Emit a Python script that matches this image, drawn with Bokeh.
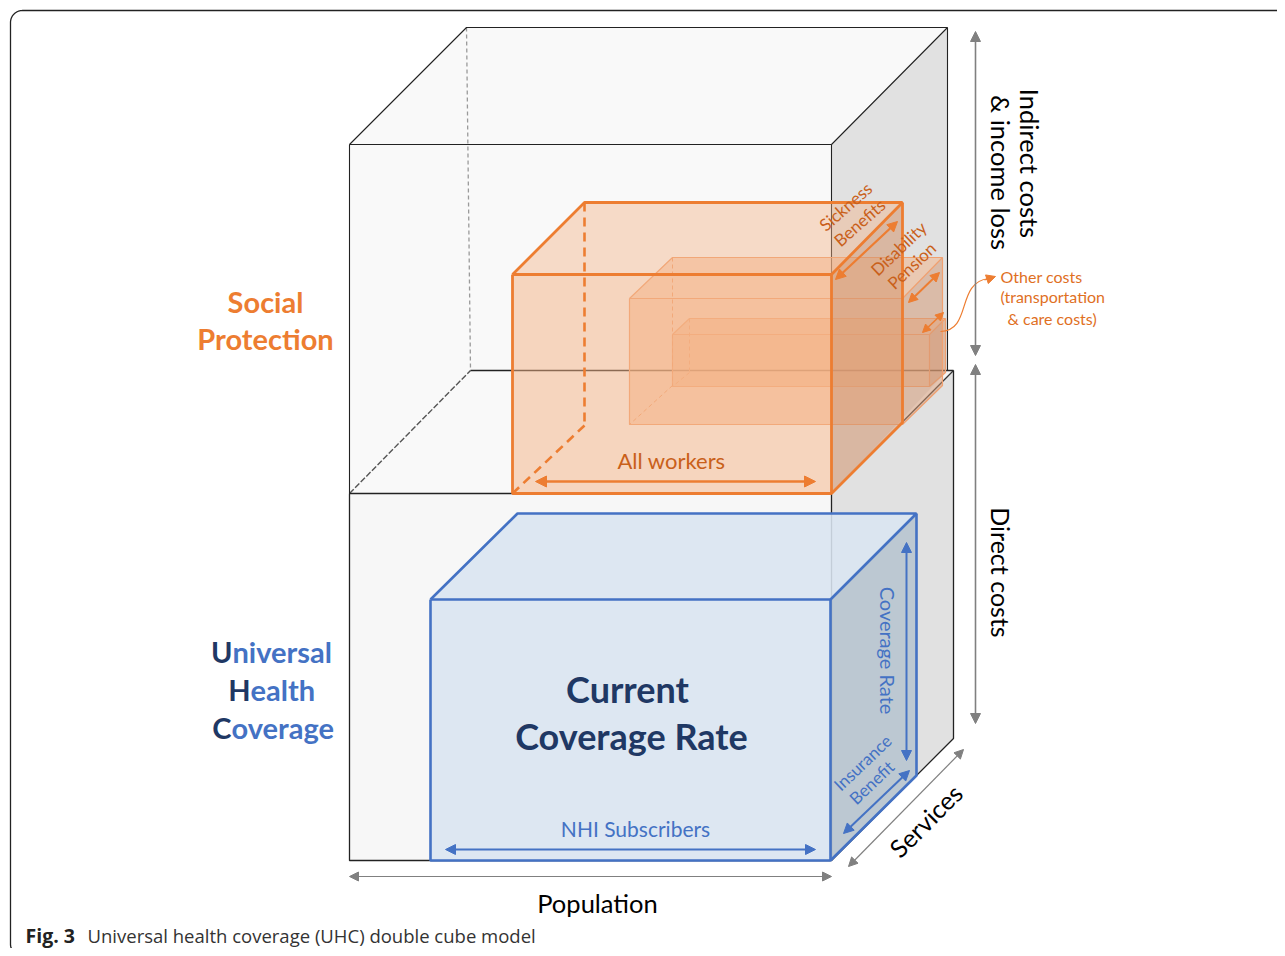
import numpy as np
from bokeh.plotting import figure
from bokeh.models import Range1d, Arrow, NormalHead
from bokeh.core.properties import value
from bokeh.embed import file_html
from bokeh.resources import INLINE

# ---------------- data (diagram geometry, screen pixels) ----------------
# each box: front face [left, top, right, bottom], back face [left, top, right, bottom]
upper_cube_front = [349, 144, 831, 493]
upper_cube_back = [466, 27, 947, 370]
lower_cube_front = [349, 493, 831, 860]
lower_cube_back = [470, 370, 953, 738]
workers_front = [512, 274, 831, 493]
workers_back = [584, 202, 902, 422]
pension_front = [629, 298, 902, 424]
pension_back = [672, 257, 942, 385]
other_front = [672, 334, 929, 386]
other_back = [689, 318, 945, 372]
nhi_front = [430, 599, 830, 860]
nhi_back = [517, 513, 916, 775]

left_orange_labels = ["Social", "Protection"]
uhc_initials = ["U", "H", "C"]
uhc_rest = ["niversal", "ealth", "overage"]
centre_labels = ["Current", "Coverage Rate"]
axis_labels = ["Population", "Services", "Direct costs", "Indirect costs", "& income loss"]
other_cost_lines = ["Other costs", "(transportation", "& care costs)"]
caption_bold = "Fig. 3"
caption_text = "Universal health coverage (UHC) double cube model"

ORANGE = "#ED7D31"
DK_ORANGE = "#C9601A"
BLUE = "#4472C4"
NAVY = "#1F3864"
GREY = "#808080"
CAL = value("Lato")
CAP = value("Open Sans")

W, H = 1277, 948
p = figure(width=W, height=H, x_range=Range1d(0, W), y_range=Range1d(H, 0),
           output_backend="svg", toolbar_location=None, min_border=0,
           x_axis_type=None, y_axis_type=None)
p.grid.visible = False
p.outline_line_color = None
p.background_fill_color = "white"
p.border_fill_color = "white"


def faces(front, back):
    x0, y0, x1, y1 = front
    bx0, by0, bx1, by1 = back
    top = ([x0, bx0, bx1, x1], [y0, by0, by0, y0])
    right = ([x1, bx1, bx1, x1], [y0, by0, by1, y1])
    fr = ([x0, x1, x1, x0], [y0, y0, y1, y1])
    return fr, top, right


def fill(poly, color, alpha):
    p.patch(poly[0], poly[1], fill_color=color, fill_alpha=alpha, line_color=None)


def seg(xs, ys, color, width, dash="solid", alpha=1.0):
    p.line(xs, ys, line_color=color, line_width=width, line_dash=dash, line_alpha=alpha)


def box_edges(front, back, color, width, alpha=1.0, hidden_dash=None, hidden_width=None):
    x0, y0, x1, y1 = front
    bx0, by0, bx1, by1 = back
    if hidden_dash:
        hw = hidden_width or width
        seg([bx0, bx0], [by0, by1], color, hw, hidden_dash, alpha)
        seg([bx0, x0], [by1, y1], color, hw, hidden_dash, alpha)
    seg([x0, x1, x1, x0, x0], [y0, y0, y1, y1, y0], color, width, alpha=alpha)
    seg([x0, bx0, bx1, x1], [y0, by0, by0, y0], color, width, alpha=alpha)
    seg([bx1, bx1, x1], [by0, by1, y1], color, width, alpha=alpha)


def arrow(x0, y0, x1, y1, color, width=1.5, size=9, both=True):
    head = lambda: NormalHead(size=size, fill_color=color, line_color=color, line_width=1)
    p.add_layout(Arrow(x_start=x0, y_start=y0, x_end=x1, y_end=y1,
                       start=head() if both else None, end=head(),
                       line_color=color, line_width=width))


def txt(x, y, s, size, color, angle=0.0, bold=False, font=CAL, align="center"):
    p.text([x], [y], text=[s], text_font=font, text_font_size=f"{size}px",
           text_color=color, angle=angle, text_align=align, text_baseline="middle",
           text_font_style="bold" if bold else "normal")


# ---------------- frame ----------------
t = np.linspace(np.pi, 1.5 * np.pi, 20)
fx = list(10 + 12 + 12 * np.cos(t)) + [1290]
fy = list(10 + 12 + 12 * np.sin(t)) + [10]
t2 = np.linspace(np.pi, 0.5 * np.pi, 12)
bx = list(10 + 10 + 10 * np.cos(t2)) + [60]
by = list(944 + 10 * np.sin(t2)) + [954]
p.line(fx[::-1] + bx, fy[::-1] + by, line_color="#222222", line_width=1.3)

# ---------------- grey cubes ----------------
lf, lt, lr = faces(lower_cube_front, lower_cube_back)
fill(lf, "#f7f7f7", 1)
fill(lr, "#e1e1e1", 1)
fill(lt, "#f4f4f4", 1)
uf, ut, ur = faces(upper_cube_front, upper_cube_back)
fill(ur, "#e1e1e1", 1)
fill(ut, "#f9f9f9", 1)
fill(uf, "#f9f9f9", 1)

# hidden edges of the upper cube
seg([466, 470], [27, 370], "#9a9a9a", 1.3, "4 3")
seg([349, 470], [493, 370], "#555555", 1.4, "6 2")
# lower cube edges
seg([470, 953], [370, 370], "#222222", 1.4)
seg([831, 953], [493, 370], "#333333", 1.2)
seg([953, 953, 831], [370, 738, 860], "#222222", 1.3)
seg([349, 831, 831, 349, 349], [493, 493, 860, 860, 493], "#222222", 1.3)
# upper cube edges
seg([349, 831, 831, 349, 349], [144, 144, 493, 493, 144], "#222222", 1.1)
seg([349, 466, 947, 831], [144, 27, 27, 144], "#222222", 1.1)
seg([947, 947], [27, 370], "#222222", 1.1)

# ---------------- orange boxes ----------------
for front, back in [(other_front, other_back), (pension_front, pension_back)]:
    f_, t_, r_ = faces(front, back)
    fill(t_, "#F4B183", 0.5)
    fill(r_, "#d4956f", 0.5)
    fill(f_, "#F4B183", 0.55)
    box_edges(front, back, "#F0A070", 1.2, 1.0, hidden_dash="4 3", hidden_width=1.0)

wf, wt, wr = faces(workers_front, workers_back)
fill(wt, "#F4B183", 0.42)
fill(wr, "#d4956f", 0.55)
fill(wf, "#F4B183", 0.5)
seg([584, 584], [202, 425], ORANGE, 2.6, "9 6")
seg([584, 512], [425, 493], ORANGE, 2.6, "9 6")
box_edges(workers_front, workers_back, ORANGE, 2.8)

# ---------------- blue box ----------------
bf, bt, br = faces(nhi_front, nhi_back)
fill(bt, "#DAE5F1", 0.88)
fill(br, "#b5c3cf", 0.85)
fill(bf, "#DAE5F1", 0.92)
box_edges(nhi_front, nhi_back, BLUE, 2.6)

# ---------------- arrows ----------------
arrow(535, 481, 815, 481, ORANGE, 2.6, 11)
arrow(835, 279, 897, 221, ORANGE, 2.2, 10)
arrow(908, 302, 939, 272, ORANGE, 2.0, 9)
arrow(922, 332, 943, 312, ORANGE, 1.6, 8)
p.bezier(x0=[940], y0=[331], x1=[988], y1=[278], cx0=[972], cy0=[330], cx1=[955], cy1=[282],
         line_color=ORANGE, line_width=1.2)
arrow(984, 279.5, 995, 276, ORANGE, 1.2, 9, both=False)

arrow(445, 849, 815, 849, BLUE, 2.0, 10)
arrow(906, 542, 906, 760, BLUE, 2.0, 10)
arrow(843, 833, 909, 770, BLUE, 2.0, 10)

arrow(975, 31, 975, 355, GREY, 1.6, 10)
arrow(975, 364, 975, 723, GREY, 1.6, 10)
arrow(349, 876, 831, 876, GREY, 1.2, 9)
arrow(848, 866, 963, 749, GREY, 1.2, 9)

# ---------------- texts ----------------
txt(265, 301, left_orange_labels[0], 29, ORANGE, bold=True)
txt(265, 338, left_orange_labels[1], 29, ORANGE, bold=True)

uhc_split = [232, 250, 231]
uhc_y = [651, 689, 727]
for a, b, sx, yy in zip(uhc_initials, uhc_rest, uhc_split, uhc_y):
    txt(sx, yy, a, 29, NAVY, bold=True, align="right")
    txt(sx, yy, b, 29, BLUE, bold=True, align="left")

txt(627, 688, centre_labels[0], 36, NAVY, bold=True)
txt(631, 735, centre_labels[1], 36, NAVY, bold=True)

txt(671, 460, "All workers", 22, DK_ORANGE)
txt(635, 828, "NHI Subscribers", 21, BLUE)
txt(887, 650, "Coverage Rate", 20, BLUE, angle=-np.pi / 2)
txt(862, 762, "Insurance", 17, BLUE, angle=0.76)
txt(871, 782, "Benefit", 17, BLUE, angle=0.76)

txt(845, 206, "Sickness", 17, DK_ORANGE, angle=0.72)
txt(859, 222, "Benefits", 17, DK_ORANGE, angle=0.72)
txt(898, 248, "Disability", 17, DK_ORANGE, angle=0.76)
txt(911, 265, "Pension", 17, DK_ORANGE, angle=0.76)

txt(1000, 276, other_cost_lines[0], 16, "#E0701F", align="left")
txt(1000, 296, other_cost_lines[1], 16, "#E0701F", align="left")
txt(1007, 318, other_cost_lines[2], 16, "#E0701F", align="left")

txt(1029, 163, axis_labels[3], 25.5, "black", angle=-np.pi / 2)
txt(1000, 172, axis_labels[4], 25.5, "black", angle=-np.pi / 2)
txt(1000, 572, axis_labels[2], 25, "black", angle=-np.pi / 2)
txt(597, 902, axis_labels[0], 25.5, "black")
txt(925, 820, axis_labels[1], 25, "black", angle=np.pi / 4)

txt(25, 935, caption_bold, 19.5, "#222222", bold=True, font=CAP, align="left")
txt(87, 935, caption_text, 18.5, "#333333", font=CAP, align="left")

open("out.html", "w").write(file_html(p, INLINE))
